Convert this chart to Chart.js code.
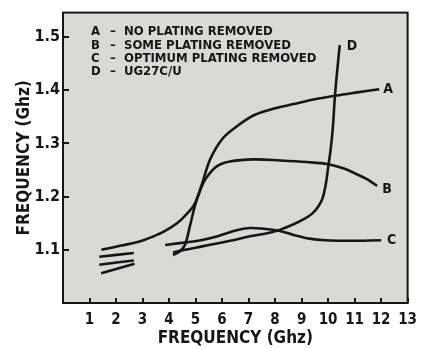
<!DOCTYPE html>
<html>
<head>
<meta charset="utf-8">
<script src="https://cdn.jsdelivr.net/npm/chart.js@4/dist/chart.umd.min.js"></script>
<style>
  html, body { margin: 0; padding: 0; background: #ffffff; }
  #wrap { width: 425px; height: 349px; position: relative; }
</style>
</head>
<body>
<div id="wrap"><canvas id="chart"></canvas></div>
<script>
// Frequency response of the connector variants (both axes in GHz)
const freqA = [1.45, 2.2, 2.85, 3.4, 3.8, 4.3, 4.6, 4.95, 5.25, 5.55, 6.0, 6.5, 7.2, 8.0, 8.7, 9.5, 10.3, 11.1, 11.93];
const valA  = [1.100, 1.108, 1.115, 1.125, 1.134, 1.150, 1.164, 1.185, 1.225, 1.270, 1.308, 1.330, 1.353, 1.366, 1.374, 1.383, 1.390, 1.396, 1.402];

const freqB = [4.15, 4.4, 4.6, 4.78, 5.0, 5.2, 5.4, 5.8, 6.3, 7.2, 8.2, 9.2, 10.0, 10.6, 11.0, 11.5, 11.85];
const valB  = [1.090, 1.097, 1.109, 1.143, 1.187, 1.215, 1.235, 1.257, 1.266, 1.270, 1.268, 1.265, 1.261, 1.253, 1.244, 1.232, 1.220];

const freqC = [3.85, 4.5, 5.2, 5.8, 6.55, 7.04, 7.5, 8.15, 8.7, 9.3, 9.9, 10.8, 12.0];
const valC  = [1.109, 1.113, 1.118, 1.125, 1.137, 1.141, 1.140, 1.136, 1.128, 1.121, 1.118, 1.117, 1.118];

const freqD = [4.15, 4.6, 5.2, 5.8, 6.5, 7.1, 7.7, 8.15, 8.7, 9.1, 9.4, 9.65, 9.8, 9.92, 10.0, 10.1, 10.18, 10.26, 10.36, 10.44];
const valD  = [1.095, 1.100, 1.106, 1.112, 1.119, 1.126, 1.131, 1.137, 1.148, 1.158, 1.168, 1.183, 1.198, 1.225, 1.254, 1.290, 1.330, 1.390, 1.445, 1.485];

// Short low-frequency traces below curve A
const stub1Freq = [1.37, 2.67];
const stub1Val  = [1.087, 1.094];
const stub2Freq = [1.37, 2.67];
const stub2Val  = [1.072, 1.080];
const stub3Freq = [1.44, 2.70];
const stub3Val  = [1.056, 1.074];

const curveNames = ["A", "B", "C", "D"];
const keyLetters = ["A", "B", "C", "D"];
const keyTexts = ["NO PLATING REMOVED", "SOME PLATING REMOVED", "OPTIMUM PLATING REMOVED", "UG27C/U"];

const xTickValues = [1, 2, 3, 4, 5, 6, 7, 8, 9, 10, 11, 12, 13];
const yTickValues = [1.1, 1.2, 1.3, 1.4, 1.5];
const axisTitle = "FREQUENCY (Ghz)";

const INK = "#161616";
const FONT = "'Liberation Sans Narrow', 'DejaVu Sans Condensed', 'Arial Narrow', sans-serif";

function pts(xs, ys) { return xs.map((x, i) => ({ x: x, y: ys[i] })); }

function curve(label, xs, ys) {
  return {
    label: label,
    data: pts(xs, ys),
    borderColor: INK,
    borderWidth: 2.6,
    pointRadius: 0,
    tension: 0.35,
    fill: false
  };
}

const datasets = [
  curve(curveNames[0], freqA, valA),
  curve(curveNames[1], freqB, valB),
  curve(curveNames[2], freqC, valC),
  curve(curveNames[3], freqD, valD),
  curve("", stub1Freq, stub1Val),
  curve("", stub2Freq, stub2Val),
  curve("", stub3Freq, stub3Val)
];

// Plot background, frame, inward tick marks, key and curve letters
const decorations = {
  id: 'decorations',
  beforeDatasetsDraw(chart) {
    const { ctx, chartArea: a } = chart;
    ctx.save();
    ctx.fillStyle = "#d8dbd3";
    ctx.fillRect(a.left, a.top, a.right - a.left, a.bottom - a.top);
    ctx.restore();
  },
  afterDatasetsDraw(chart) {
    const { ctx, chartArea: a, scales } = chart;
    const xs = scales.x, ys = scales.y;
    ctx.save();
    // frame
    ctx.strokeStyle = INK;
    ctx.lineWidth = 2;
    ctx.strokeRect(a.left, a.top, a.right - a.left, a.bottom - a.top);
    // ticks pointing into the plot
    ctx.lineWidth = 2;
    ctx.beginPath();
    xTickValues.forEach(v => {
      const px = Math.round(xs.getPixelForValue(v));
      ctx.moveTo(px, a.bottom);
      ctx.lineTo(px, a.bottom - 5);
    });
    yTickValues.forEach(v => {
      const py = Math.round(ys.getPixelForValue(v));
      ctx.moveTo(a.left, py);
      ctx.lineTo(a.left + 6, py);
    });
    ctx.stroke();

    // key
    ctx.fillStyle = INK;
    ctx.font = "bold 13px " + FONT;
    ctx.textBaseline = "middle";
    ctx.textAlign = "left";
    keyLetters.forEach((k, i) => {
      const y = 32 + i * 13.2;
      ctx.fillText(k, 91, y);
      ctx.fillText("\u2013", 110, y);
      ctx.fillText(keyTexts[i], 124, y);
    });

    // letters at the ends of the curves
    const offsets = [[4, 0], [5, 3], [6, 0], [7, 1]];
    ctx.font = "bold 14px " + FONT;
    curveNames.forEach((n, i) => {
      const d = chart.data.datasets[i].data;
      const last = d[d.length - 1];
      const px = xs.getPixelForValue(last.x) + offsets[i][0];
      const py = ys.getPixelForValue(last.y) + offsets[i][1];
      ctx.fillText(n, px, py);
    });
    ctx.restore();
  }
};

new Chart(document.getElementById('chart'), {
  type: 'line',
  data: { datasets: datasets },
  options: {
    responsive: true,
    maintainAspectRatio: false,
    animation: false,
    events: [],
    layout: { padding: { top: 9, right: 11, left: 0, bottom: 0 } },
    plugins: { legend: { display: false }, tooltip: { enabled: false } },
    scales: {
      x: {
        type: 'linear',
        min: 0,
        max: 13,
        grid: { display: false, drawTicks: false },
        border: { display: false },
        afterFit(scale) { scale.height = 46; },
        afterBuildTicks(scale) { scale.ticks = xTickValues.map(v => ({ value: v })); },
        ticks: {
          padding: 8,
          maxRotation: 0,
          autoSkip: false,
          color: INK,
          font: { family: FONT, size: 15, weight: 'bold' },
          callback: v => String(v)
        },
        title: {
          display: true,
          text: axisTitle,
          color: INK,
          font: { family: FONT, size: 17, weight: 'bold' },
          padding: { top: 0, bottom: 0 }
        }
      },
      y: {
        type: 'linear',
        min: 1.0,
        max: 1.546,
        grid: { display: false, drawTicks: false },
        border: { display: false },
        afterFit(scale) { scale.width = 63; },
        afterBuildTicks(scale) { scale.ticks = yTickValues.map(v => ({ value: v })); },
        ticks: {
          padding: 3,
          autoSkip: false,
          color: INK,
          font: { family: FONT, size: 16, weight: 'bold' },
          callback: v => v.toFixed(1)
        },
        title: {
          display: true,
          text: axisTitle,
          color: INK,
          font: { family: FONT, size: 17, weight: 'bold' },
          padding: { top: 14, bottom: 0 }
        }
      }
    }
  },
  plugins: [decorations]
});
</script>
</body>
</html>
